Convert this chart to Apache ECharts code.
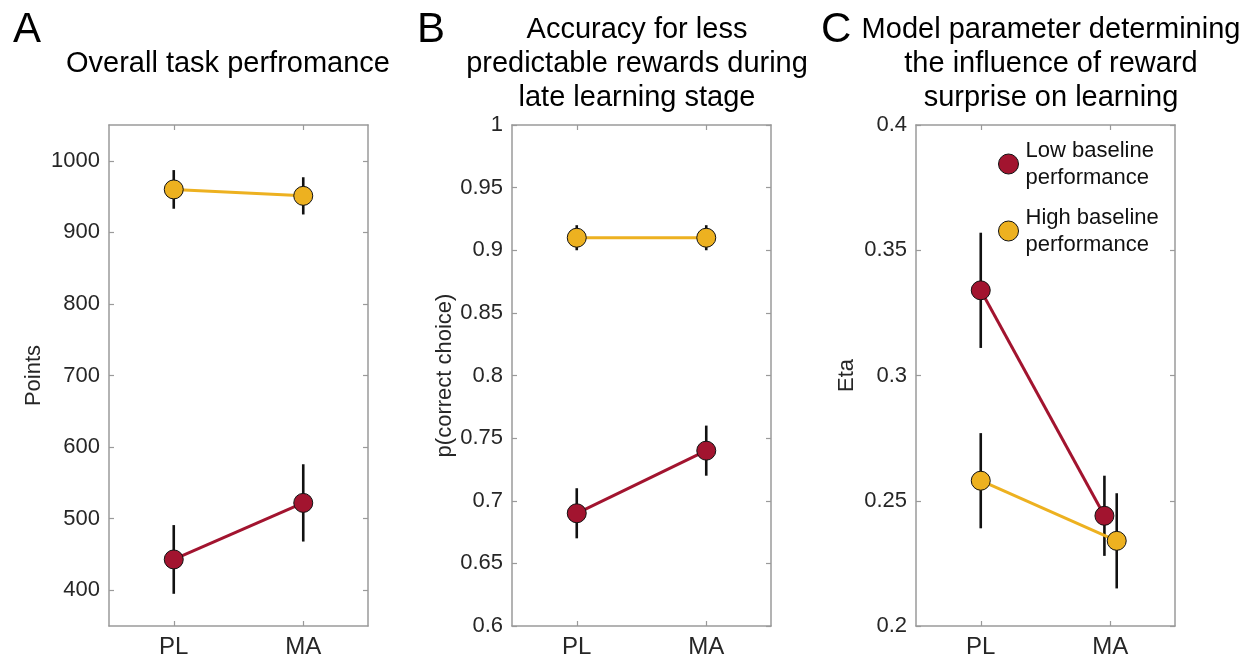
<!DOCTYPE html>
<html>
<head>
<meta charset="utf-8">
<script src="https://cdn.jsdelivr.net/npm/echarts@6/dist/echarts.min.js"></script>
<style>
  html, body { margin: 0; padding: 0; background: #ffffff; }
  #chart { width: 1253px; height: 659px; }
</style>
</head>
<body>
<div id="chart"></div>
<script>
// ---- data ----
const categories = ['PL', 'MA'];
const categoryX = [1, 2];
const groupNames = ['Low baseline performance', 'High baseline performance'];

// A: overall task performance (points), mean and error
const pointsLow = [443, 522];
const pointsLowErr = [48, 54];
const pointsHigh = [960, 951];
const pointsHighErr = [27, 26];

// B: p(correct choice), late learning stage
const accLow = [0.69, 0.74];
const accLowErr = [0.02, 0.02];
const accHigh = [0.91, 0.91];
const accHighErr = [0.01, 0.01];

// C: model parameter eta
const etaLow = [0.334, 0.244];
const etaLowErr = [0.023, 0.016];
const etaHigh = [0.258, 0.234];
const etaHighErr = [0.019, 0.019];
// small horizontal dodge at MA so the two groups do not overlap
const etaLowX = [1, 1.955];
const etaHighX = [1, 2.05];

// y tick values and axis limits
const yTicksA = [400, 500, 600, 700, 800, 900, 1000];
const yTicksB = [0.6, 0.65, 0.7, 0.75, 0.8, 0.85, 0.9, 0.95, 1];
const yTicksC = [0.2, 0.25, 0.3, 0.35, 0.4];
const yRangeA = [350, 1050];
const yRangeB = [0.6, 1];
const yRangeC = [0.2, 0.4];

const titleA = 'Overall task perfromance';
const titleB = 'Accuracy for less\npredictable rewards during\nlate learning stage';
const titleC = 'Model parameter determining\nthe influence of reward\nsurprise on learning';
const yNames = ['Points', 'p(correct choice)', 'Eta'];

// ---- styling ----
const FONT = '"Liberation Sans", Arial, Helvetica, sans-serif';
const RED = '#A2142F';
const YELLOW = '#EDB120';
const BOX = '#9a9a9a';
const TEXT = '#262626';

const panels = [
  { x: 109, yTicks: yTicksA, yRange: yRangeA, name: yNames[0], nameGap: 64,
    groups: [
      { x: categoryX, y: pointsLow, e: pointsLowErr, color: RED },
      { x: categoryX, y: pointsHigh, e: pointsHighErr, color: YELLOW }
    ] },
  { x: 512, yTicks: yTicksB, yRange: yRangeB, name: yNames[1], nameGap: 56,
    groups: [
      { x: categoryX, y: accLow, e: accLowErr, color: RED },
      { x: categoryX, y: accHigh, e: accHighErr, color: YELLOW }
    ] },
  { x: 916, yTicks: yTicksC, yRange: yRangeC, name: yNames[2], nameGap: 58,
    groups: [
      { x: etaLowX, y: etaLow, e: etaLowErr, color: RED },
      { x: etaHighX, y: etaHigh, e: etaHighErr, color: YELLOW }
    ] }
];

const grid = [], xAxis = [], yAxis = [], series = [];
const boxLine = { show: true, onZero: false, lineStyle: { color: BOX, width: 1.5 } };
const innerTick = (vals) => ({ show: true, inside: true, length: 5, customValues: vals,
  lineStyle: { color: BOX, width: 1.2 } });

panels.forEach((p, i) => {
  grid.push({ left: p.x, top: 125, width: 259, height: 501 });
  // bottom (labelled) and top (mirror) x axes
  xAxis.push({
    type: 'value', gridIndex: i, position: 'bottom', min: 0.5, max: 2.5,
    axisLine: boxLine, axisTick: innerTick(categoryX), splitLine: { show: false },
    axisLabel: { customValues: categoryX, margin: 9, fontSize: 24, fontFamily: FONT, color: TEXT,
      formatter: (v) => categories[categoryX.indexOf(v)] }
  });
  xAxis.push({
    type: 'value', gridIndex: i, position: 'top', min: 0.5, max: 2.5,
    axisLine: boxLine, axisTick: innerTick(categoryX), splitLine: { show: false },
    axisLabel: { show: false }
  });
  // left (labelled) and right (mirror) y axes
  yAxis.push({
    type: 'value', gridIndex: i, position: 'left', min: p.yRange[0], max: p.yRange[1],
    name: p.name, nameLocation: 'middle', nameGap: p.nameGap,
    nameTextStyle: { fontSize: 22, fontFamily: FONT, color: TEXT },
    axisLine: boxLine, axisTick: innerTick(p.yTicks), splitLine: { show: false },
    axisLabel: { customValues: p.yTicks, margin: 9, fontSize: 22, fontFamily: FONT, color: TEXT,
      formatter: (v) => String(v) }
  });
  yAxis.push({
    type: 'value', gridIndex: i, position: 'right', min: p.yRange[0], max: p.yRange[1],
    axisLine: boxLine, axisTick: innerTick(p.yTicks), splitLine: { show: false },
    axisLabel: { show: false }
  });

  p.groups.forEach((g, gi) => {
    // vertical error bars
    series.push({
      type: 'custom', xAxisIndex: 2 * i, yAxisIndex: 2 * i, z: 1,
      data: g.x.map((xv, k) => [xv, g.y[k] - g.e[k], g.y[k] + g.e[k]]),
      encode: { x: 0, y: [1, 2] },
      renderItem: (params, api) => {
        const lo = api.coord([api.value(0), api.value(1)]);
        const hi = api.coord([api.value(0), api.value(2)]);
        return { type: 'line', shape: { x1: lo[0], y1: lo[1], x2: hi[0], y2: hi[1] },
          style: { stroke: '#111111', lineWidth: 2.6 } };
      },
      silent: true
    });
    // mean line with markers
    series.push({
      type: 'line', name: groupNames[gi], xAxisIndex: 2 * i, yAxisIndex: 2 * i, z: 3,
      data: g.x.map((xv, k) => [xv, g.y[k]]),
      symbol: 'circle', symbolSize: 19, showSymbol: true,
      lineStyle: { color: g.color, width: 3 },
      itemStyle: { color: g.color, borderColor: '#111111', borderWidth: 1 },
      emphasis: { disabled: true },
      animation: false
    });
  });
});

const graphic = [
  { type: 'text', x: 13, y: 30, style: { text: 'A', font: '42px ' + FONT, fill: '#000', textAlign: 'left', textVerticalAlign: 'middle' } },
  { type: 'text', x: 417, y: 30, style: { text: 'B', font: '42px ' + FONT, fill: '#000', textAlign: 'left', textVerticalAlign: 'middle' } },
  { type: 'text', x: 821, y: 30, style: { text: 'C', font: '42px ' + FONT, fill: '#000', textAlign: 'left', textVerticalAlign: 'middle' } },
  { type: 'text', x: 228, y: 64, style: { text: titleA, font: '29px ' + FONT, fill: '#000', textAlign: 'center', textVerticalAlign: 'middle' } },
  { type: 'text', x: 637, y: 64, style: { text: titleB, font: '29px ' + FONT, fill: '#000', textAlign: 'center', textVerticalAlign: 'middle', lineHeight: 34 } },
  { type: 'text', x: 1051, y: 64, style: { text: titleC, font: '29px ' + FONT, fill: '#000', textAlign: 'center', textVerticalAlign: 'middle', lineHeight: 34 } }
];

const chart = echarts.init(document.getElementById('chart'), null, { renderer: 'canvas' });
chart.setOption({
  animation: false,
  backgroundColor: '#ffffff',
  grid, xAxis, yAxis, series, graphic,
  legend: {
    data: groupNames, orient: 'vertical', left: 993, top: 132, itemGap: 13,
    icon: 'circle', itemWidth: 20, itemHeight: 20, selectedMode: false,
    itemStyle: { borderColor: '#111111', borderWidth: 1 },
    formatter: (n) => n.replace(' performance', '\nperformance'),
    textStyle: { fontSize: 22, lineHeight: 27, fontFamily: FONT, color: '#111', padding: [0, 0, 0, 2] }
  }
});
</script>
</body>
</html>
